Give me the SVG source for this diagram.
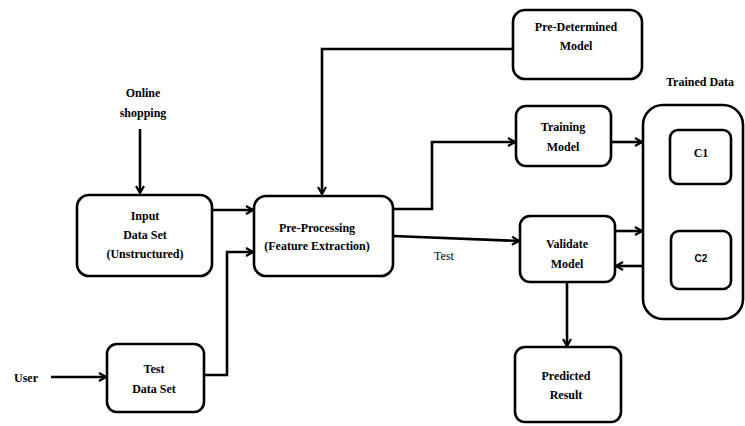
<svg xmlns="http://www.w3.org/2000/svg" width="745" height="426" viewBox="0 0 745 426">
<defs>
<marker id="arr" viewBox="0 0 10 10" refX="9" refY="5" markerWidth="10" markerHeight="10" markerUnits="userSpaceOnUse" orient="auto">
<polyline points="2,1 9,5 2,9" fill="none" stroke="#000" stroke-width="2.2"/>
</marker>
<style>
.box{fill:#fff;stroke:#000;stroke-width:2.6}
.c{fill:none;stroke:#000;stroke-width:2.6}
.t{font-family:"Liberation Serif","Times New Roman",serif;font-weight:bold;font-size:12px;text-anchor:middle;fill:#000}
.n{font-family:"Liberation Serif","Times New Roman",serif;font-size:12px;text-anchor:middle;fill:#000}
</style>
</defs>
<rect width="745" height="426" fill="#fff"/>
<g id="connectors">
<path class="c" d="M140,129 V193" marker-end="url(#arr)"/>
<path class="c" d="M512,49 H322 V194" marker-end="url(#arr)"/>
<path class="c" d="M212,210 H253" marker-end="url(#arr)"/>
<path class="c" d="M51,377 H106" marker-end="url(#arr)"/>
<path class="c" d="M204,375 H227 V252 H253" marker-end="url(#arr)"/>
<path class="c" d="M393,209 H432 V142 H515" marker-end="url(#arr)"/>
<path class="c" d="M611,142 H642" marker-end="url(#arr)"/>
<path class="c" d="M393,236 L519,241" marker-end="url(#arr)"/>
<path class="c" d="M615,231 H642" marker-end="url(#arr)"/>
<path class="c" d="M643,266 H616" marker-end="url(#arr)"/>
<path class="c" d="M567,282 V346" marker-end="url(#arr)"/>
</g>
<g id="online-shopping">
<text class="t" x="143" y="97">Online</text>
<text class="t" x="143" y="117">shopping</text>
</g>
<g id="user">
<text class="t" x="26" y="382">User</text>
</g>
<g id="input-data-set">
<rect class="box" x="77" y="195" width="135" height="81" rx="12"/>
<text class="t" x="145" y="220">Input</text>
<text class="t" x="145" y="239">Data Set</text>
<text class="t" x="145" y="258">(Unstructured)</text>
</g>
<g id="test-data-set">
<rect class="box" x="107" y="344" width="97" height="68" rx="10"/>
<text class="t" x="154" y="373">Test</text>
<text class="t" x="154" y="393">Data Set</text>
</g>
<g id="pre-processing">
<rect class="box" x="254" y="196" width="139" height="80" rx="12"/>
<text class="t" x="317" y="232">Pre-Processing</text>
<text class="t" x="317" y="250">(Feature Extraction)</text>
</g>
<g id="pre-determined-model">
<rect class="box" x="513" y="10" width="129" height="69" rx="12"/>
<text class="t" x="576" y="31">Pre-Determined</text>
<text class="t" x="576" y="50">Model</text>
</g>
<g id="training-model">
<rect class="box" x="516" y="106" width="95" height="60" rx="10"/>
<text class="t" x="563" y="131">Training</text>
<text class="t" x="563" y="151">Model</text>
</g>
<g id="validate-model">
<rect class="box" x="520" y="216" width="95" height="66" rx="10"/>
<text class="t" x="567" y="248">Validate</text>
<text class="t" x="567" y="268">Model</text>
</g>
<g id="test-label">
<text class="n" x="444" y="260">Test</text>
</g>
<g id="predicted-result">
<rect class="box" x="515" y="347" width="106" height="75" rx="10"/>
<text class="t" x="566" y="380">Predicted</text>
<text class="t" x="566" y="399">Result</text>
</g>
<g id="trained-data">
<text class="t" x="700" y="86">Trained Data</text>
<rect class="box" x="643" y="105" width="100" height="214" rx="20"/>
</g>
<g id="c1">
<rect class="box" x="670" y="130" width="61" height="54" rx="8"/>
<text class="t" x="701" y="157">C1</text>
</g>
<g id="c2">
<rect class="box" x="671" y="231" width="60" height="58" rx="8"/>
<text x="701" y="262" style="font-family:'Liberation Sans',Arial,sans-serif;font-size:10px;text-anchor:middle;font-weight:bold">C2</text>
</g>
</svg>
